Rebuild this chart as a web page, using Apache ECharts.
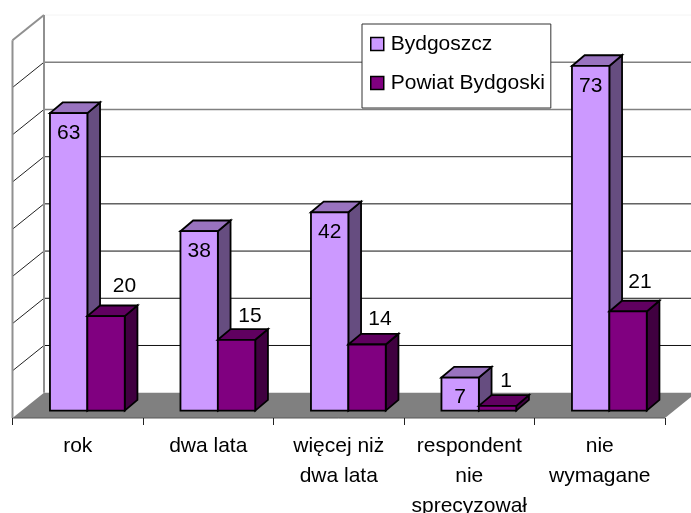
<!DOCTYPE html>
<html>
<head>
<meta charset="utf-8">
<style>html,body{margin:0;padding:0;background:#fff}#c{width:691px;height:513px}</style>
<script src="https://cdn.jsdelivr.net/npm/echarts@6/dist/echarts.min.js"></script>
</head>
<body>
<div id="c"></div>
<script>
const categories = ['rok', 'dwa lata', 'więcej niż\ndwa lata', 'respondent\nnie\nsprecyzował', 'nie\nwymagane'];
const bydgoszcz = [63, 38, 42, 7, 73];
const powiat = [20, 15, 14, 1, 21];
const valueTicks = [0, 10, 20, 30, 40, 50, 60, 70, 80];

const DEPTH_X = 31.5, DEPTH_Y = 25.3;
const BAR_FRONT_X = 9.6, BAR_FRONT_Y = 7.4;
const BAR_DEPTH_X = 12.7, BAR_DEPTH_Y = 10.7;
const BAR_FILL = 0.2865;
const darkNudgeX = [18.5, 13.5, 13, 8.5, 12];
const darkNudgeY = [-30, -24, -25, -25, -29];
const FONT = '"Liberation Sans", Arial, sans-serif';
const FONT_SIZE = 21;

function poly(pts, fill, stroke, lw) {
  return { type: 'polygon', shape: { points: pts },
    style: { fill: fill, stroke: stroke || null, lineWidth: lw || 0, lineJoin: 'miter' } };
}
function seg(x1, y1, x2, y2, color, lw) {
  return { type: 'line', shape: { x1, y1, x2, y2 }, style: { stroke: color, lineWidth: lw } };
}

function gridStyle(v) {
  if (v >= 80) return ['#f4f4f4', 1];
  if (v >= 60) return ['#808080', 1.6];
  if (v >= 50) return ['#555555', 1.3];
  return ['#111111', 1];
}

function renderFrame(params, api) {
  const cs = params.coordSys;
  const p = api.coord([0, api.value(1)]);
  const y = p[1];
  const left = cs.x, right = cs.x + cs.width;
  const v = api.value(1);
  const kids = [];
  if (v === 0) {
    kids.push(poly([[left, y], [left + DEPTH_X, y - DEPTH_Y], [right + DEPTH_X, y - DEPTH_Y], [right, y]], '#808080'));
    kids.push(seg(left, y, right, y, '#595959', 1));
  } else {
    const g = gridStyle(v);
    kids.push(seg(left + DEPTH_X, y - DEPTH_Y, right + DEPTH_X, y - DEPTH_Y, g[0], g[1]));
    kids.push(seg(left, y, left + DEPTH_X, y - DEPTH_Y, v === 80 ? '#909090' : '#222222', v === 80 ? 2 : 1));
  }
  return { type: 'group', children: kids };
}

function renderWalls(params, api) {
  const cs = params.coordSys;
  const left = cs.x, topY = cs.y, botY = cs.y + cs.height;
  return { type: 'group', children: [
    seg(left, topY, left, botY, '#909090', 2),
    seg(left + DEPTH_X, topY - DEPTH_Y, left + DEPTH_X, botY - DEPTH_Y, '#909090', 2)
  ] };
}

function makeBar(which, front, side, top) {
  return function (params, api) {
    const idx = api.value(0), val = api.value(1);
    const base = api.coord([idx, 0]);
    const head = api.coord([idx, val]);
    const band = api.size([1, 0])[0];
    const w = band * BAR_FILL;
    const x0 = base[0] + BAR_FRONT_X + (which === 0 ? -w : 0);
    const x1 = x0 + w;
    const yb = base[1] - BAR_FRONT_Y;
    const yt = head[1] - BAR_FRONT_Y;
    const dx = BAR_DEPTH_X, dy = BAR_DEPTH_Y;
    const kids = [
      poly([[x1, yb], [x1 + dx, yb - dy], [x1 + dx, yt - dy], [x1, yt]], side, '#000', 1.8),
      poly([[x0, yt], [x0 + dx, yt - dy], [x1 + dx, yt - dy], [x1, yt]], top, '#000', 1.8),
      poly([[x0, yb], [x0, yt], [x1, yt], [x1, yb]], front, '#000', 1.8)
    ];
    const lx = which === 0 ? (x0 + x1) / 2 : (x0 + x1) / 2 + darkNudgeX[idx];
    const ly = which === 0 ? yt + 20 : yt + darkNudgeY[idx];
    kids.push({ type: 'text', style: { text: String(val), x: lx, y: ly, fill: '#000',
      font: FONT_SIZE + 'px ' + FONT, align: 'center', verticalAlign: 'middle' }, z2: 10 });
    return { type: 'group', children: kids };
  };
}

const chart = echarts.init(document.getElementById('c'), null, { renderer: 'canvas' });
chart.setOption({
  animation: false,
  backgroundColor: '#fff',
  grid: { left: 12.5, top: 40.3, width: 652.5, height: 377.7, containLabel: false, outerBoundsMode: 'none' },
  xAxis: {
    type: 'category', data: categories,
    axisLine: { show: false },
    axisTick: { show: true, length: 7, lineStyle: { color: '#222', width: 1 } },
    splitLine: { show: false },
    axisLabel: { interval: 0, margin: 13, color: '#000', fontFamily: FONT, fontSize: FONT_SIZE, lineHeight: 30,
      hideOverlap: false, verticalAlign: 'top' },
    z: 5
  },
  yAxis: {
    type: 'value', min: 0, max: 80, interval: 10,
    axisLine: { show: false }, axisTick: { show: false }, axisLabel: { show: false }, splitLine: { show: false }
  },
  legend: {
    show: true, orient: 'vertical', left: 362, top: 24,
    backgroundColor: '#fff', borderColor: '#333', borderWidth: 1,
    padding: [8, 6, 13, 8], itemGap: 15, itemWidth: 13, itemHeight: 13,
    textStyle: { fontFamily: FONT, fontSize: FONT_SIZE, color: '#000', lineHeight: 24, padding: [0, 0, 0, 2] },
    selectedMode: false, z: 20,
    data: [
      { name: 'Bydgoszcz', icon: 'rect', itemStyle: { color: '#CC99FF', borderColor: '#000', borderWidth: 1.5 } },
      { name: 'Powiat Bydgoski', icon: 'rect', itemStyle: { color: '#800080', borderColor: '#000', borderWidth: 1.5 } }
    ]
  },
  series: [
    { type: 'custom', name: 'frame', coordinateSystem: 'cartesian2d', clip: false, silent: true,
      renderItem: renderFrame, data: valueTicks.map(v => [0, v]), encode: { x: 0, y: 1 }, z: 1 },
    { type: 'custom', name: 'walls', coordinateSystem: 'cartesian2d', clip: false, silent: true,
      renderItem: renderWalls, data: [[0, 0]], encode: { x: 0, y: 1 }, z: 2 },
    { type: 'custom', name: 'Bydgoszcz', coordinateSystem: 'cartesian2d', clip: false,
      itemStyle: { color: '#CC99FF' },
      renderItem: makeBar(0, '#CC99FF', '#664D80', '#9973BF'),
      data: bydgoszcz.map((v, i) => [i, v]), encode: { x: 0, y: 1 }, z: 3 },
    { type: 'custom', name: 'Powiat Bydgoski', coordinateSystem: 'cartesian2d', clip: false,
      itemStyle: { color: '#800080' },
      renderItem: makeBar(1, '#800080', '#400040', '#600060'),
      data: powiat.map((v, i) => [i, v]), encode: { x: 0, y: 1 }, z: 4 }
  ]
});
</script>
</body>
</html>
